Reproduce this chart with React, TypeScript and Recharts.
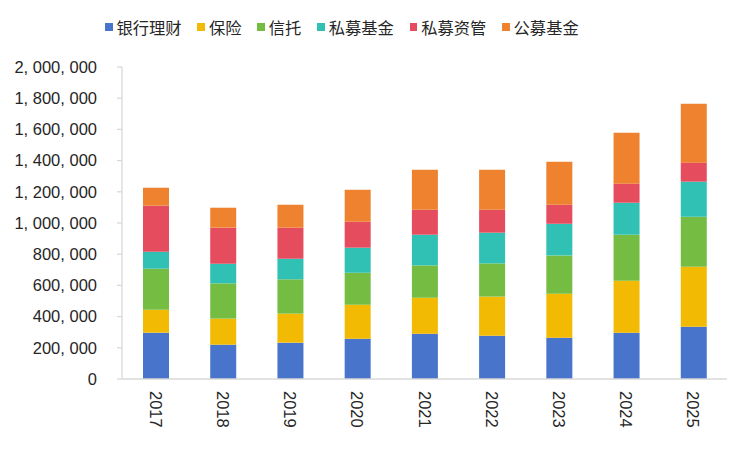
import React from "react";
import { BarChart, Bar, XAxis, YAxis, Legend } from "recharts";

const years = ["2017", "2018", "2019", "2020", "2021", "2022", "2023", "2024", "2025"];
const bankWealth = [297000, 220000, 233000, 258000, 290000, 278000, 265000, 297000, 335000];
const insurance = [147000, 167000, 186000, 218000, 231000, 250000, 282000, 333000, 385000];
const trust = [263000, 226000, 220000, 205000, 207000, 213000, 245000, 295000, 320000];
const privateFund = [109000, 126000, 132000, 161000, 197000, 197000, 203000, 205000, 225000];
const privateAM = [295000, 231000, 199000, 166000, 160000, 147000, 122000, 122000, 122000];
const publicFund = [115000, 128000, 147000, 205000, 257000, 257000, 276000, 327000, 378000];
const yTicks = [0, 200000, 400000, 600000, 800000, 1000000, 1200000, 1400000, 1600000, 1800000, 2000000];
const boundaryTicks = [0, 1, 2, 3, 4, 5, 6, 7, 8, 9];

const series = [
  { key: "bank", name: "银行理财", values: bankWealth, color: "#4874CB" },
  { key: "ins", name: "保险", values: insurance, color: "#F2BA02" },
  { key: "trust", name: "信托", values: trust, color: "#75BD42" },
  { key: "pf", name: "私募基金", values: privateFund, color: "#30C0B4" },
  { key: "pam", name: "私募资管", values: privateAM, color: "#E54C5E" },
  { key: "mf", name: "公募基金", values: publicFund, color: "#EE822F" },
];

const data = years.map((y, i) => {
  const row: Record<string, string | number> = { year: y };
  series.forEach((s) => {
    row[s.key] = s.values[i];
  });
  return row;
});

const fmt = (v: number) => String(v).replace(/\B(?=(\d{3})+(?!\d))/g, ", ");

const AXIS = "#D9D9D9";
const TEXT = "#262626";
const NUM_FONT = "'Liberation Sans', Arial, sans-serif";
const CJK_FONT = "'Noto Sans CJK SC', sans-serif";

const RotTick = (props: any) => {
  const { x, y, payload } = props;
  return (
    <text
      transform={`translate(${x},${y + 3}) rotate(90)`}
      textAnchor="start"
      dominantBaseline="central"
      fontSize={16.5}
      fontFamily={NUM_FONT}
      fill={TEXT}
    >
      {payload.value}
    </text>
  );
};

const LegendContent = () => (
  <div style={{ display: "flex", alignItems: "center", height: 34 }}>
    {series.map((s) => (
      <div key={s.key} style={{ display: "flex", alignItems: "center", marginRight: 15.8 }}>
        <span style={{ width: 7.5, height: 7.5, background: s.color, display: "inline-block", marginRight: 4 }} />
        <span style={{ fontFamily: CJK_FONT, fontSize: 16.3, color: TEXT, lineHeight: "34px" }}>{s.name}</span>
      </div>
    ))}
  </div>
);

export default function App() {
  return (
    <div style={{ position: "absolute", left: 0, top: 0, width: 751, height: 451, background: "#fff" }}>
      <BarChart
        width={751}
        height={451}
        data={data}
        margin={{ top: 33, right: 24, left: 0, bottom: 11 }}
      >
        <Legend
          verticalAlign="top"
          content={<LegendContent />}
          wrapperStyle={{ top: 10, left: 105, width: "auto", height: 34 }}
        />
        <XAxis
          xAxisId="b"
          dataKey="year"
          height={60}
          axisLine={false}
          tickLine={false}
          tick={<RotTick />}
          interval={0}
        />
        <XAxis
          xAxisId="a"
          type="number"
          domain={[0, 9]}
          ticks={boundaryTicks}
          tick={false}
          height={1}
          axisLine={{ stroke: AXIS, strokeWidth: 1.3 }}
          tickLine={{ stroke: AXIS, strokeWidth: 1.3 }}
          tickSize={5}
          allowDataOverflow
        />
        <YAxis
          width={122}
          domain={[0, 2000000]}
          ticks={yTicks}
          tickFormatter={fmt}
          axisLine={{ stroke: AXIS, strokeWidth: 1.3 }}
          tickLine={{ stroke: AXIS, strokeWidth: 1.3 }}
          tickSize={5}
          tickMargin={20}
          tick={{ fill: TEXT, fontSize: 16.5, fontFamily: NUM_FONT }}
          interval={0}
        />
        {series.map((s) => (
          <Bar
            key={s.key}
            xAxisId="b"
            dataKey={s.key}
            name={s.name}
            stackId="a"
            fill={s.color}
            barSize={26}
            isAnimationActive={false}
          />
        ))}
      </BarChart>
    </div>
  );
}
